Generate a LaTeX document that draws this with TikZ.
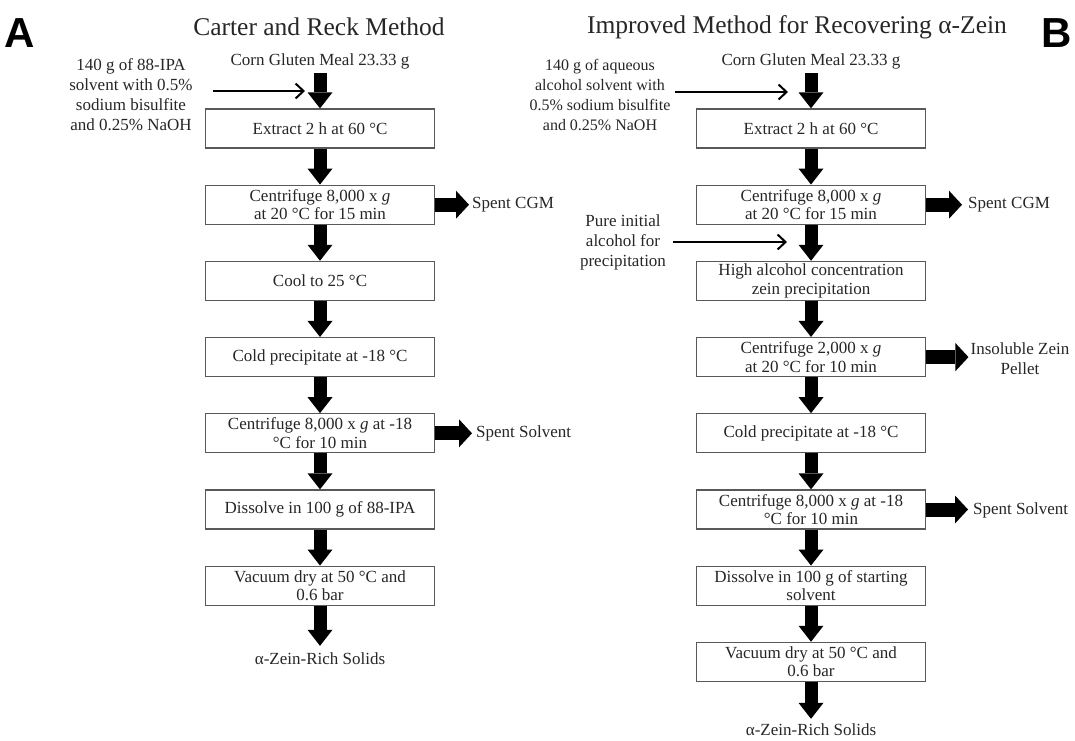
\documentclass[tikz,border=0pt]{standalone}
\usepackage{fontspec}
\setmainfont{Liberation Serif}
\newfontfamily\panelfont{Liberation Sans}
\usetikzlibrary{arrows.meta}
\begin{document}
\begin{tikzpicture}[x=1pt,y=-1pt,
  stepbox/.style={draw=black!65, line width=1.3pt, minimum width=229pt, minimum height=39pt, inner sep=1pt, align=center, font=\fontsize{17}{18.5}\selectfont, text=black!85},
  lbl/.style={align=center, font=\fontsize{17}{20}\selectfont, text=black!85, inner sep=0pt},
  ttl/.style={font=\fontsize{25.5}{30}\selectfont, text=black!85, inner sep=0pt},
  panel/.style={font=\panelfont\bfseries\fontsize{42}{48}\selectfont, inner sep=0pt},
  downarrow/.style={line width=13pt, -{Triangle[length=16pt,width=25pt,line width=0pt]}},
  sidearrow/.style={line width=14pt, -{Triangle[length=13pt,width=28pt,line width=0pt]}},
  thinarrow/.style={line width=2pt, -{Straight Barb[length=8pt,width=15pt]}},
]
\useasboundingbox (0,0) rectangle (1075,740);

% panel letters and titles
\node[panel] (pA) at (20,33) {A};
\node[panel] (pB) at (1057,33) {B};
\node[ttl] (tA) at (319,27) {Carter and Reck Method};
\node[ttl] (tB) at (797,27) {Improved Method for Recovering α-Zein};

% ---------- left column ----------
\node[lbl] (cornL) at (320,61) {Corn Gluten Meal 23.33 g};
\node[lbl] (inL) at (131,95) {140 g of 88-IPA\\solvent with 0.5\%\\sodium bisulfite\\and 0.25\% NaOH};
\node[stepbox] (L1) at (320,128.5) {Extract 2 h at 60 °C};
\node[stepbox] (L2) at (320,204.7) {Centrifuge 8,000 x \textit{g}\\at 20 °C for 15 min};
\node[stepbox] (L3) at (320,280.9) {Cool to 25 °C};
\node[stepbox] (L4) at (320,357.1) {Cold precipitate at -18 °C};
\node[stepbox] (L5) at (320,433.3) {Centrifuge 8,000 x \textit{g} at -18\\°C for 10 min};
\node[stepbox] (L6) at (320,509.5) {Dissolve in 100 g of 88-IPA};
\node[stepbox] (L7) at (320,585.7) {Vacuum dry at 50 °C and\\0.6 bar};
\node[lbl] (finL) at (320,659) {α-Zein-Rich Solids};
\node[lbl, anchor=west] (sL2) at (472,205) {Spent CGM};
\node[lbl, anchor=west] (sL5) at (476,433) {Spent Solvent};

\coordinate (inLs) at (213,91);
\coordinate (inLe) at (305,91);
\draw[thinarrow] (inLs) -- (inLe);
\draw[downarrow] ([yshift=-4pt]cornL.south) -- (L1.north);
\draw[downarrow] (L1.south) -- (L2.north);
\draw[downarrow] (L2.south) -- (L3.north);
\draw[downarrow] (L3.south) -- (L4.north);
\draw[downarrow] (L4.south) -- (L5.north);
\draw[downarrow] (L5.south) -- (L6.north);
\draw[downarrow] (L6.south) -- (L7.north);
\draw[downarrow, shorten >=7pt] (L7.south) -- (finL.north);
\draw[sidearrow, shorten >=3pt] (L2.east) -- (L2.east -| sL2.west);
\draw[sidearrow, shorten >=4pt] (L5.east) -- (L5.east -| sL5.west);

% ---------- right column ----------
\node[lbl] (cornR) at (811,61) {Corn Gluten Meal 23.33 g};
\node[lbl, font=\fontsize{16}{20}\selectfont] (inR) at (600,95) {140 g of aqueous\\alcohol solvent with\\0.5\% sodium bisulfite\\and 0.25\% NaOH};
\node[lbl] (pure) at (623,242) {Pure initial\\alcohol for\\precipitation};
\node[stepbox] (R1) at (811,128.5) {Extract 2 h at 60 °C};
\node[stepbox] (R2) at (811,204.7) {Centrifuge 8,000 x \textit{g}\\at 20 °C for 15 min};
\node[stepbox] (R3) at (811,280.9) {High alcohol concentration\\zein precipitation};
\node[stepbox] (R4) at (811,357.1) {Centrifuge 2,000 x \textit{g}\\at 20 °C for 10 min};
\node[stepbox] (R5) at (811,433.3) {Cold precipitate at -18 °C};
\node[stepbox] (R6) at (811,509.5) {Centrifuge 8,000 x \textit{g} at -18\\°C for 10 min};
\node[stepbox] (R7) at (811,585.7) {Dissolve in 100 g of starting\\solvent};
\node[stepbox] (R8) at (811,661.9) {Vacuum dry at 50 °C and\\0.6 bar};
\node[lbl] (finR) at (811,730) {α-Zein-Rich Solids};
\node[lbl, anchor=west] (sR2) at (968,205) {Spent CGM};
\node[lbl] (sR4) at (1020,359) {Insoluble Zein\\Pellet};
\node[lbl, anchor=west] (sR6) at (973,510) {Spent Solvent};

\coordinate (inRs) at (675,92);
\coordinate (inRe) at (788,92);
\coordinate (pureS) at (673,242);
\coordinate (pureE) at (787,242);
\draw[thinarrow] (inRs) -- (inRe);
\draw[thinarrow] (pureS) -- (pureE);
\draw[downarrow] ([yshift=-4pt]cornR.south) -- (R1.north);
\draw[downarrow] (R1.south) -- (R2.north);
\draw[downarrow] (R2.south) -- (R3.north);
\draw[downarrow] (R3.south) -- (R4.north);
\draw[downarrow] (R4.south) -- (R5.north);
\draw[downarrow] (R5.south) -- (R6.north);
\draw[downarrow] (R6.south) -- (R7.north);
\draw[downarrow] (R7.south) -- (R8.north);
\draw[downarrow, shorten >=5pt] (R8.south) -- (finR.north);
\draw[sidearrow, shorten >=6pt] (R2.east) -- (R2.east -| sR2.west);
\draw[sidearrow, shorten >=2pt] (R4.east) -- (R4.east -| sR4.west);
\draw[sidearrow, shorten >=5pt] (R6.east) -- (R6.east -| sR6.west);
\end{tikzpicture}
\end{document}
